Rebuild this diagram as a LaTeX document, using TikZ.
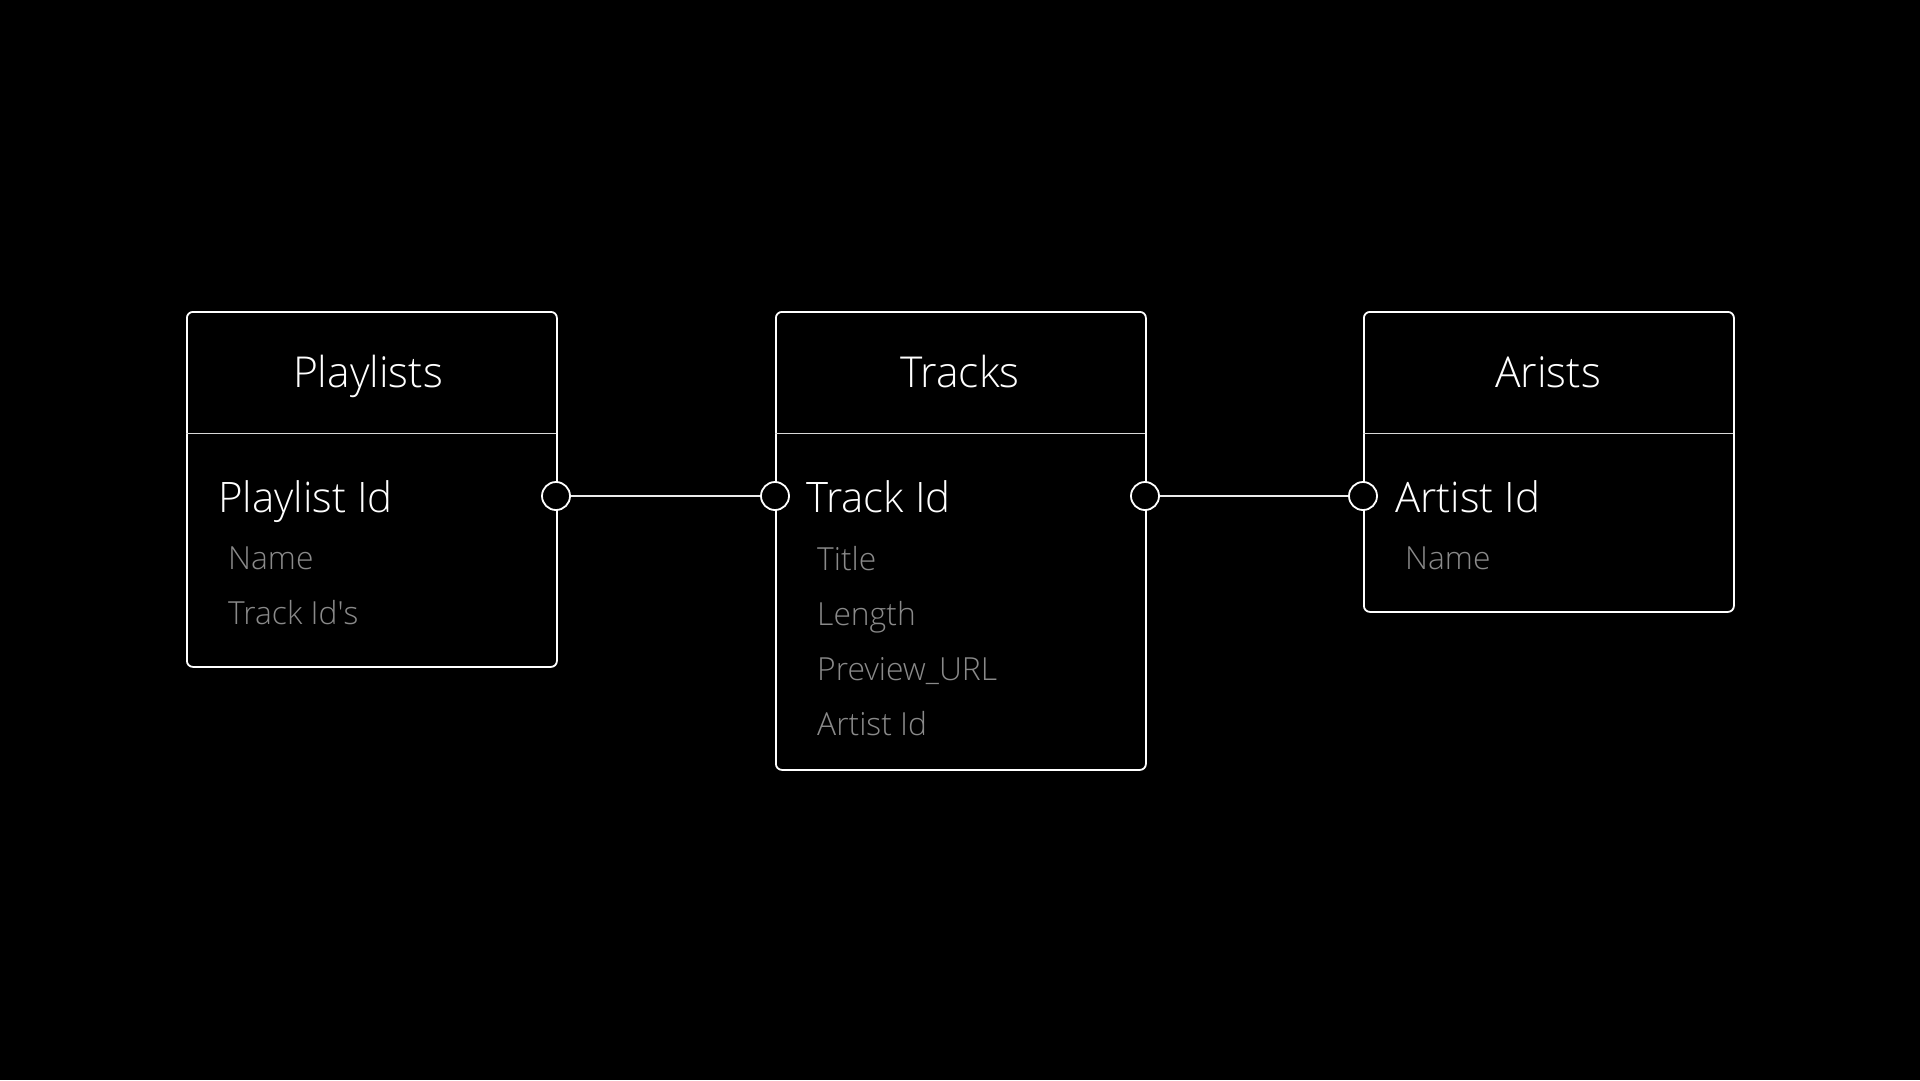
\documentclass[tikz,border=0pt]{standalone}
\usepackage{fontspec}
\setmainfont{Open Sans}[UprightFont=* Light]
\definecolor{attrgray}{HTML}{8A8A8A}
\begin{document}
\begin{tikzpicture}[x=1pt,y=-1pt,
  entity/.style={draw=white, line width=1.8pt, rounded corners=6pt, fill=black, minimum width=370pt, inner sep=0pt, anchor=north west},
  divline/.style={draw=white!85!black, line width=1pt},
  port/.style={circle, draw=white, line width=1.8pt, fill=black, minimum size=28pt, inner sep=0pt},
  conn/.style={draw=white!92!black, line width=1.6pt},
  titletext/.style={text=white, anchor=base, inner sep=0pt, font=\fontsize{42.6}{50}\selectfont},
  keytext/.style={text=white, anchor=base west, inner sep=0pt, font=\fontsize{42}{50}\selectfont},
  attrtext/.style={text=attrgray, anchor=base west, inner sep=0pt, font=\fontsize{31.8}{38}\selectfont}]
\fill[black] (0,0) rectangle (1920,1080);
\useasboundingbox (0,0) rectangle (1920,1080);

% Playlists
\node[entity, minimum height=355pt] (pl) at (186,311) {};
\draw[divline] (186,433.3) -- (556,433.3);
\node[titletext] (plT) at (368,387) {Playlists};
\node[keytext] (plK) at (218,512) {Playlist Id};
\node[attrtext] (plA1) at (228,569) {Name};
\node[attrtext] (plA2) at (228,624) {Track Id\textquotesingle s};

% Tracks
\node[entity, minimum height=458pt] (tr) at (775,311) {};
\draw[divline] (775,433.3) -- (1145,433.3);
\node[titletext] (trT) at (960,387) {Tracks};
\node[keytext] (trK) at (806,512) {Track Id};
\node[attrtext] (trA1) at (817,570) {Title};
\node[attrtext] (trA2) at (817,625) {Length};
\node[attrtext] (trA3) at (817,680) {Preview\_URL};
\node[attrtext] (trA4) at (817,735) {Artist Id};

% Artists
\node[entity, minimum height=300pt] (ar) at (1363,311) {};
\draw[divline] (1363,433.3) -- (1733,433.3);
\node[titletext] (arT) at (1548,387) {Arists};
\node[keytext] (arK) at (1395,512) {Artist Id};
\node[attrtext] (arA1) at (1405,569) {Name};

% ports
\node[port] (plR) at (556,496) {};
\node[port] (trL) at (775,496) {};
\node[port] (trR) at (1145,496) {};
\node[port] (arL) at (1363,496) {};

% connectors
\draw[conn] (plR) -- (trL);
\draw[conn] (trR) -- (arL);
\end{tikzpicture}
\end{document}
